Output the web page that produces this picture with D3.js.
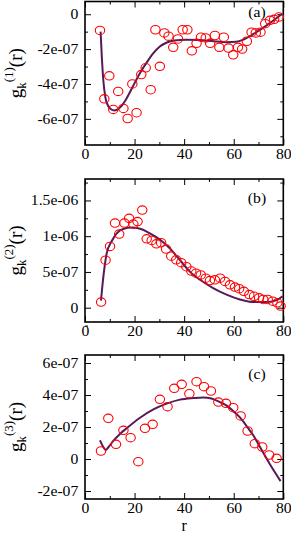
<!DOCTYPE html>
<html>
<head>
<meta charset="utf-8">
<script src="https://cdn.jsdelivr.net/npm/d3@7"></script>
<style>
  body { margin: 0; background: #fff; }
  svg { display: block; }
  text { font-family: "Liberation Serif", "DejaVu Serif", serif; }
</style>
</head>
<body>
<div id="chart"></div>
<script>
// values are in units of 1e-7
const UNIT = 1e-7;

// panel (a) points and fit
const rA = [6.05, 7.8, 9.8, 11.4, 13.4, 15.5, 17.2, 19.1, 20.8, 22.7, 24.5, 26.5, 28.4, 30.2, 32.0, 33.7, 35.6, 37.5, 39.4, 41.3, 43.1, 45.0, 46.8, 48.7, 50.5, 52.4, 54.2, 56.0, 57.9, 59.8, 61.7, 63.4, 65.3, 67.2, 68.9, 70.8, 72.7, 74.6, 76.3, 78.2];
const gA = [-0.93, -4.85, -3.53, -5.46, -4.43, -5.4, -5.98, -4.0, -5.65, -3.46, -3.07, -4.33, -0.89, -2.99, -1.07, -1.26, -1.9, -1.42, -0.89, -0.89, -2.1, -1.67, -1.32, -1.36, -1.67, -1.22, -1.9, -1.32, -1.94, -2.33, -1.9, -2.0, -1.55, -1.03, -1.07, -1.03, -0.54, -0.35, -0.29, -0.16];
const fitRA = [6.3, 6.8, 7.4, 8.2, 9.3, 10.5, 11.8, 13.0, 14.5, 16.3, 18.2, 20, 22.5, 25, 27.5, 30.2, 33, 36, 41, 46, 52, 57, 61, 64, 68, 73.3, 79.7];
const fitA = [-1.0, -2.5, -3.8, -4.75, -5.25, -5.45, -5.52, -5.47, -5.3, -4.95, -4.45, -3.95, -3.3, -2.75, -2.25, -1.85, -1.62, -1.5, -1.46, -1.48, -1.55, -1.6, -1.58, -1.45, -1.13, -0.64, 0.04];

// panel (b)
const rB = [6.5, 8.3, 10.1, 12.1, 13.8, 15.9, 17.8, 19.5, 21.2, 23.1, 24.9, 26.9, 28.8, 30.7, 32.7, 34.8, 36.8, 38.8, 40.9, 42.9, 44.8, 46.7, 48.7, 50.4, 52.4, 54.5, 56.5, 58.5, 60.5, 62.2, 64.1, 66.3, 68.2, 70.2, 71.9, 73.7, 75.7, 77.6, 78.9];
const gB = [0.78, 6.65, 8.57, 11.83, 10.3, 11.83, 12.5, 11.7, 12.05, 13.66, 9.63, 9.4, 8.94, 9.1, 8.2, 7.2, 6.7, 6.3, 5.73, 5.13, 4.82, 4.58, 4.13, 3.8, 3.9, 4.13, 3.67, 3.2, 2.89, 2.66, 2.29, 1.83, 1.6, 1.38, 1.15, 1.15, 0.91, 0.69, 0.23];
const fitRB = [6.45, 7.4, 8.75, 10.75, 12.8, 15.4, 18.8, 22.2, 26.2, 30.2, 34.3, 38.3, 42.3, 46.4, 51.7, 57.1, 62.5, 67.9, 73.3, 77.3, 79.7];
const fitB = [1.0, 4.3, 7.6, 9.3, 10.4, 11.0, 11.2, 11.05, 10.4, 9.54, 8.26, 6.65, 5.05, 3.9, 2.75, 1.83, 1.15, 0.78, 0.78, 1.05, 1.6];

// panel (c)
const rC = [6.45, 9.4, 12.5, 15.5, 18.4, 21.5, 24.2, 27.3, 30.2, 33.3, 36.0, 39.0, 42.1, 45.0, 48.0, 50.8, 53.8, 56.9, 59.8, 62.8, 65.6, 68.5, 71.5, 74.3, 77.3];
const gC = [0.5, 2.54, 0.92, 1.79, 1.33, -0.17, 1.92, 2.17, 3.73, 3.27, 4.42, 4.67, 4.08, 4.83, 4.52, 4.25, 3.56, 3.48, 3.21, 2.69, 1.75, 0.96, 0.75, 0.25, 0.04];
const fitRC = [6.05, 7.2, 8.3, 9.5, 11.4, 14, 16.8, 22.2, 27.6, 32.9, 38.3, 43.7, 47.7, 51, 54.4, 57, 59.8, 62.5, 65.2, 68, 70.6, 74.6, 78.9];
const fitC = [1.17, 0.8, 0.56, 0.75, 1.13, 1.55, 1.92, 2.58, 3.1, 3.46, 3.71, 3.81, 3.85, 3.78, 3.56, 3.35, 3.0, 2.6, 2.06, 1.45, 0.75, -0.33, -1.38];

const xTicks = [0, 20, 40, 60, 80];
const xMinor = [10, 30, 50, 70];

const panels = [
  {r: rA, g: gA, fr: fitRA, fg: fitA, tag: "(a)", sup: "(1)",
   domain: [-7.5, 0.73], top: 1.5, bottom: 145,
   ticks: [-6, -4, -2, 0], minor: [-7, -5, -3, -1], tagY: 17},
  {r: rB, g: gB, fr: fitRB, fg: fitB, tag: "(b)", sup: "(2)",
   domain: [-2, 18], top: 179, bottom: 322,
   ticks: [0, 5, 10, 15], minor: [-2.5, 2.5, 7.5, 12.5, 17.5], tagY: 203},
  {r: rC, g: gC, fr: fitRC, fg: fitC, tag: "(c)", sup: "(3)",
   domain: [-2.5, 6.5], top: 355, bottom: 499,
   ticks: [-2, 0, 2, 4, 6], minor: [-1, 1, 3, 5], tagY: 379}
];

const width = 291, height = 534;
const left = 85, right = 283.3;
const stretch = "scale(1.12,1)";

const svg = d3.select("#chart").append("svg")
  .attr("width", width)
  .attr("height", height);

const x = d3.scaleLinear().domain([0, 80]).range([left, right]);

// tick label like 1.5e-06
function fmt(v) {
  if (Math.abs(v) < 1e-3) return "0";
  return (v * UNIT).toExponential().replace(/e([+-])(\d)$/, "e$10$2");
}

panels.forEach(p => {
  const y = d3.scaleLinear().domain(p.domain).range([p.bottom, p.top]);
  const g = svg.append("g");

  // major and minor ticks on all four sides
  const axes = [
    [d3.axisBottom(x).tickValues(xTicks).tickSize(-6).tickPadding(4), `translate(0,${p.bottom})`, true],
    [d3.axisBottom(x).tickValues(xMinor).tickSize(-3), `translate(0,${p.bottom})`, false],
    [d3.axisTop(x).tickValues(xTicks).tickSize(-6), `translate(0,${p.top})`, false],
    [d3.axisTop(x).tickValues(xMinor).tickSize(-3), `translate(0,${p.top})`, false],
    [d3.axisLeft(y).tickValues(p.ticks).tickSize(-6).tickPadding(6).tickFormat(fmt), `translate(${left},0)`, true],
    [d3.axisLeft(y).tickValues(p.minor).tickSize(-3), `translate(${left},0)`, false],
    [d3.axisRight(y).tickValues(p.ticks).tickSize(-6), `translate(${right},0)`, false],
    [d3.axisRight(y).tickValues(p.minor).tickSize(-3), `translate(${right},0)`, false]
  ];
  axes.forEach(([ax, tr, labels]) => {
    const a = g.append("g").attr("transform", tr).call(ax);
    a.select(".domain").remove();
    a.selectAll("line").attr("stroke", "#000").attr("stroke-width", 1);
    if (labels) {
      a.selectAll("text")
        .attr("fill", "#000")
        .attr("font-size", 14)
        .attr("font-family", "Liberation Serif, serif")
        .attr("transform", stretch);
    } else {
      a.selectAll("text").remove();
    }
  });

  // frame
  g.append("rect")
    .attr("x", left).attr("y", p.top)
    .attr("width", right - left).attr("height", p.bottom - p.top)
    .attr("fill", "none").attr("stroke", "#000").attr("stroke-width", 1.6);

  // fitted curve
  const line = d3.line()
    .x((d, i) => x(p.fr[i]))
    .y(d => y(d))
    .curve(d3.curveMonotoneX);
  g.append("path")
    .attr("d", line(p.fg))
    .attr("fill", "none")
    .attr("stroke", "#561a57")
    .attr("stroke-width", 2);

  // data points
  g.selectAll(".pt")
    .data(p.g)
    .enter().append("ellipse")
    .attr("class", "pt")
    .attr("cx", (d, i) => x(p.r[i]))
    .attr("cy", d => y(d))
    .attr("rx", 4.7)
    .attr("ry", 4.2)
    .attr("fill", "none")
    .attr("stroke", "#ff0000")
    .attr("stroke-width", 1.1);

  // panel tag
  g.append("text")
    .attr("transform", `translate(257,${p.tagY}) ${stretch}`)
    .attr("text-anchor", "middle")
    .attr("font-size", 14)
    .text(p.tag);

  // y label g_k^(n)(r)
  const cy = (p.top + p.bottom) / 2;
  const lab = g.append("text")
    .attr("transform", `translate(22,${cy}) rotate(-90)`)
    .attr("text-anchor", "middle")
    .attr("font-size", 19);
  lab.append("tspan").text("g");
  lab.append("tspan").attr("font-size", 13).attr("dy", 4).text("k");
  lab.append("tspan").attr("font-size", 13).attr("dy", -13).text(p.sup);
  lab.append("tspan").attr("dy", 9).text("(r)");
});

// x axis title
svg.append("text")
  .attr("x", (left + right) / 2)
  .attr("y", 530.5)
  .attr("text-anchor", "middle")
  .attr("font-size", 16)
  .text("r");
</script>
</body>
</html>
